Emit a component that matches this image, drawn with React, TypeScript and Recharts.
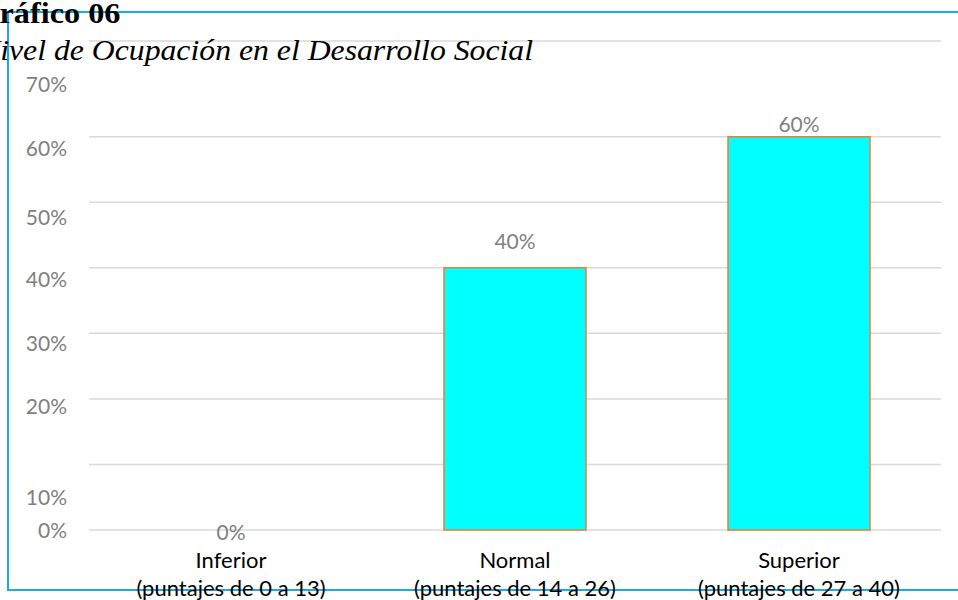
import React from 'react';
import { ComposedChart, Bar, Line, XAxis, YAxis, CartesianGrid, LabelList } from 'recharts';

// ---- data ----
const categoryNames = ['Inferior', 'Normal', 'Superior'];
const categoryRanges = ['(puntajes de 0 a 13)', '(puntajes de 14 a 26)', '(puntajes de 27 a 40)'];
const values = [0, 0.4, 0.6];
const valueLabels = ['0%', '40%', '60%'];
const yTicks = [0, 0.1, 0.2, 0.3, 0.4, 0.5, 0.6, 0.746];
const yTickLabels = ['0%', '10%', '20%', '30%', '40%', '50%', '60%', '70%'];
const titleText = 'Gráfico 06';
const subtitleText = 'Nivel de Ocupación en el Desarrollo Social';

const data = categoryNames.map((name, i) => ({
  name,
  range: categoryRanges[i],
  value: values[i],
  label: valueLabels[i],
}));

// ---- styles ----
const FONT = 'Lato, "Open Sans", sans-serif';
const SERIF = "'Liberation Serif', 'Times New Roman', serif";
const FS = 21;
const GRAY = '#7f7f7f';
const PLOT_LEFT = 89;
const yLabelShift = [-1, 32, 7, 9, 11, 14, 11, 42];
const barLabelShift = [1, -27, -13];

const YTick = (props: any) => {
  const { y, index } = props;
  return (
    <text
      x={PLOT_LEFT - 22}
      y={y + (yLabelShift[index] ?? 0)}
      textAnchor="end"
      dominantBaseline="central"
      fill={GRAY}
      fontSize={FS}
      fontFamily={FONT}
    >
      {yTickLabels[index]}
    </text>
  );
};

const XTick = (props: any) => {
  const { x, y, index } = props;
  return (
    <g>
      <text x={x} y={y + 21} textAnchor="middle" dominantBaseline="central" fill="#000" fontSize={22} fontFamily={FONT}>
        {categoryNames[index]}
      </text>
      <text x={x} y={y + 49} textAnchor="middle" dominantBaseline="central" fill="#000" fontSize={22} fontFamily={FONT}>
        {categoryRanges[index]}
      </text>
    </g>
  );
};

const BarLabel = (props: any) => {
  const { x, y, index } = props;
  return (
    <text
      x={x}
      y={y + (barLabelShift[index] ?? 0)}
      textAnchor="middle"
      dominantBaseline="central"
      fill={GRAY}
      fontSize={FS}
      fontFamily={FONT}
    >
      {valueLabels[index]}
    </text>
  );
};

export default function App() {
  return (
    <div style={{ position: 'absolute', left: 0, top: 0, width: 958, height: 600, overflow: 'hidden', background: '#fff' }}>
      <div
        style={{
          position: 'absolute',
          left: 7,
          top: 11,
          width: 1000,
          height: 576,
          borderTop: '2px solid #1DA9E4',
          borderLeft: '2px solid #1DA9E4',
          borderBottom: '2px solid #1DA9E4',
        }}
      />
      <div style={{ position: 'absolute', left: 0, top: 0 }}>
        <ComposedChart width={958} height={600} data={data} margin={{ top: 41, right: 17, bottom: 0, left: 0 }}>
          <CartesianGrid vertical={false} stroke="#d9d9d9" strokeWidth={1.5} />
          <XAxis dataKey="name" axisLine={false} tickLine={false} height={70} tick={<XTick />} interval={0} />
          <YAxis
            width={PLOT_LEFT}
            domain={[0, 0.746]}
            ticks={yTicks}
            axisLine={false}
            tickLine={false}
            tick={<YTick />}
            interval={0}
          />
          <Bar dataKey="value" fill="#00FFFF" stroke="#ED7D31" strokeWidth={1.5} barSize={142} isAnimationActive={false} />
          <Line dataKey="value" stroke="none" dot={false} activeDot={false} isAnimationActive={false}>
            <LabelList dataKey="label" content={<BarLabel />} />
          </Line>
        </ComposedChart>
      </div>
      <svg width={958} height={600} style={{ position: 'absolute', left: 0, top: 0, overflow: 'hidden' }}>
        <text
          x={-25.6}
          y={23}
          textLength={146}
          lengthAdjust="spacingAndGlyphs"
          style={{ fontFamily: SERIF, fontWeight: 'bold', fontSize: 29 }}
          fill="#000"
        >
          {titleText}
        </text>
        <text
          x={-21}
          y={60}
          textLength={554}
          lengthAdjust="spacingAndGlyphs"
          style={{ fontFamily: SERIF, fontStyle: 'italic', fontSize: 30 }}
          fill="#000"
        >
          {subtitleText}
        </text>
      </svg>
    </div>
  );
}
